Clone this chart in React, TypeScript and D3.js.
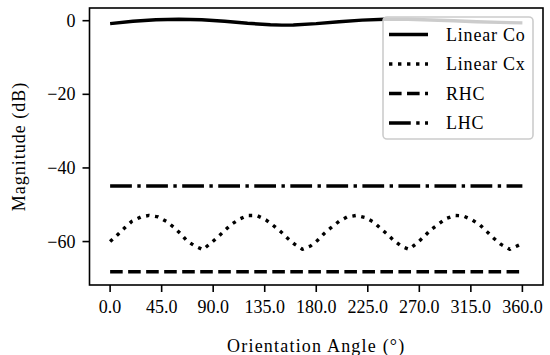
import React from "react";
import * as d3 from "d3";

const xTicks = [0, 45, 90, 135, 180, 225, 270, 315, 360];
const yTicks = [0, -20, -40, -60];

const coAngles = [0, 20, 40, 60, 80, 100, 120, 140, 150, 160, 180, 200, 220, 240, 260, 280, 300, 320, 340, 360];
const coValues = [-0.8, -0.15, 0.27, 0.4, 0.27, -0.15, -0.7, -1.1, -1.2, -1.15, -0.8, -0.27, 0.15, 0.4, 0.4, 0.2, 0.0, -0.27, -0.46, -0.6];

const cxAngles = [0, 7, 13, 19, 27, 34, 42, 49, 56, 62, 67, 74, 81, 88, 94, 100, 106, 113, 120, 128, 136, 142, 149, 155, 161, 168, 175, 181, 187, 193, 200, 207, 215, 223, 230, 236, 242, 248, 255, 261, 268, 274, 280, 287, 293, 301, 308, 316, 323, 329, 335, 341, 349, 356, 360];
const cxValues = [-60.0, -58.0, -56.2, -54.5, -53.3, -52.9, -53.3, -54.5, -56.2, -58.0, -59.8, -61.2, -62.2, -60.4, -58.8, -57.0, -55.3, -53.9, -52.9, -52.9, -54.1, -55.5, -57.3, -59.1, -60.7, -62.1, -61.2, -59.7, -57.8, -56.2, -54.5, -53.3, -52.9, -53.5, -54.7, -56.4, -58.0, -59.8, -61.4, -62.1, -60.4, -58.7, -56.8, -55.2, -53.8, -52.9, -53.0, -54.1, -55.5, -57.3, -59.1, -60.7, -62.1, -61.1, -60.5];

const rhcAngles = [0, 360];
const rhcValues = [-68.2, -68.2];
const lhcAngles = [0, 360];
const lhcValues = [-44.9, -44.9];

const seriesNames = ["Linear Co", "Linear Cx", "RHC", "LHC"];

const LW = 3.4;
const dashes = [
  "none",
  `${1 * LW},${1.65 * LW}`,
  `${3.7 * LW},${1.6 * LW}`,
  `${6.4 * LW},${1.6 * LW},${1 * LW},${1.6 * LW}`,
];

const FONT = "'Liberation Serif', 'DejaVu Serif', serif";

export default function App() {
  const W = 550, H = 355;
  const left = 89.5, right = 543, top = 8, bottom = 285;
  const x = d3.scaleLinear().domain([-18, 378]).range([left, right]);
  const y = d3.scaleLinear().domain([-71.8, 3.45]).range([bottom, top]);

  const line = d3.line<[number, number]>().x((d) => x(d[0])).y((d) => y(d[1]));
  const zip = (a: number[], b: number[]) => a.map((v, i) => [v, b[i]] as [number, number]);
  const series = [
    zip(coAngles, coValues),
    zip(cxAngles, cxValues),
    zip(rhcAngles, rhcValues),
    zip(lhcAngles, lhcValues),
  ];

  const fmtX = (v: number) => v.toFixed(1);
  const fmtY = (v: number) => (v < 0 ? "\u2212" + Math.abs(v) : String(v));

  const legX = 383, legY = 17, legW = 150, legH = 122;
  const rowY = [34.5, 64, 93.5, 123];

  return (
    <svg width={W} height={H} style={{ position: "absolute", left: 0, top: 0, background: "#fff" }} fontFamily={FONT}>
      <defs>
        <clipPath id="plot">
          <rect x={left} y={top} width={right - left} height={bottom - top} />
        </clipPath>
      </defs>
      {series.map((s, i) => (
        <path
          key={i}
          d={line(s) || ""}
          fill="none"
          stroke="#000"
          strokeWidth={LW}
          strokeDasharray={dashes[i]}
          strokeLinecap="butt"
          strokeLinejoin="round"
          clipPath="url(#plot)"
        />
      ))}
      <rect x={left} y={top} width={right - left} height={bottom - top} fill="none" stroke="#000" strokeWidth={1.6} />
      {xTicks.map((t) => (
        <g key={t}>
          <line x1={x(t)} x2={x(t)} y1={bottom} y2={bottom + 7} stroke="#000" strokeWidth={1.6} />
          <text x={x(t)} y={bottom + 28} textAnchor="middle" fontSize={18}>
            {fmtX(t)}
          </text>
        </g>
      ))}
      {yTicks.map((t) => (
        <g key={t}>
          <line x1={left - 7} x2={left} y1={y(t)} y2={y(t)} stroke="#000" strokeWidth={1.6} />
          <text x={left - 14} y={y(t) + 6} textAnchor="end" fontSize={18}>
            {fmtY(t)}
          </text>
        </g>
      ))}
      <text x={(left + right) / 2} y={352} textAnchor="middle" fontSize={18} letterSpacing={1.2}>
        Orientation Angle (°)
      </text>
      <text transform={`translate(25,${(top + bottom) / 2}) rotate(-90)`} textAnchor="middle" fontSize={18} letterSpacing={1}>
        Magnitude (dB)
      </text>
      <rect x={legX} y={legY} width={legW} height={legH} rx={4} fill="#fff" fillOpacity={0.8} stroke="#ccc" strokeWidth={1.6} />
      {seriesNames.map((n, i) => (
        <g key={n}>
          <line x1={389} x2={428} y1={rowY[i]} y2={rowY[i]} stroke="#000" strokeWidth={LW} strokeDasharray={dashes[i]} />
          <text x={446} y={rowY[i] + 6} fontSize={18} letterSpacing={0.8}>
            {n}
          </text>
        </g>
      ))}
    </svg>
  );
}
